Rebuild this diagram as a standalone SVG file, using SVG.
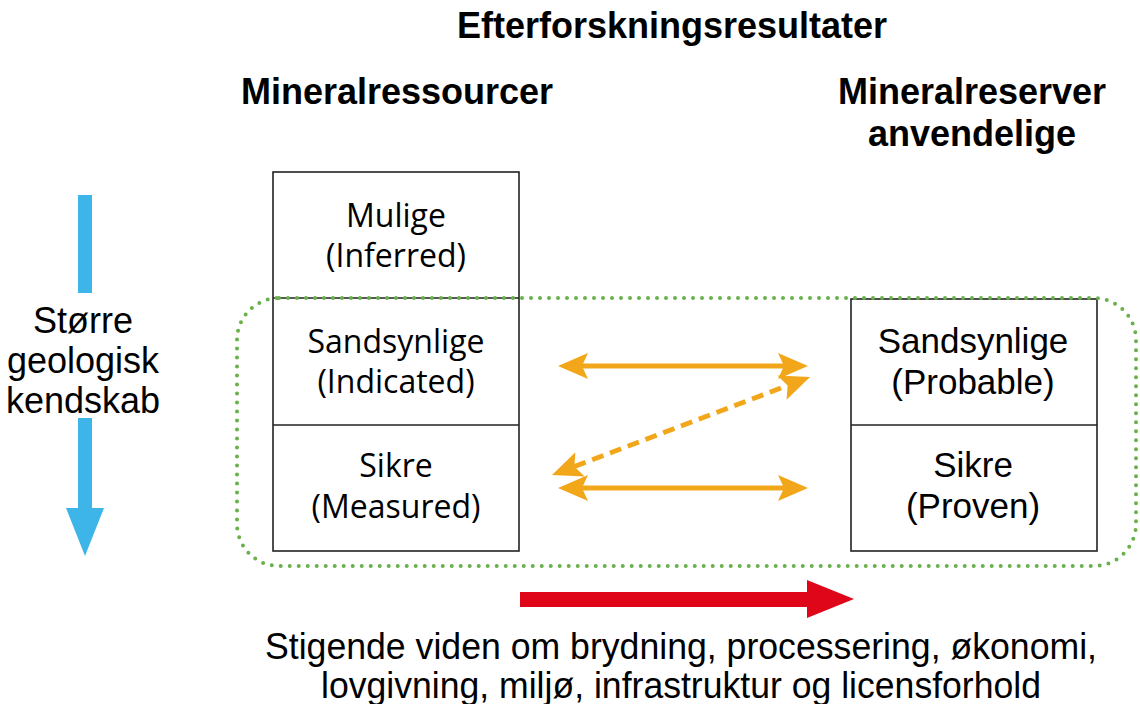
<svg xmlns="http://www.w3.org/2000/svg" width="1140" height="704" viewBox="0 0 1140 704">
<style>
.h{font-family:"Liberation Sans",Arial,sans-serif;font-weight:bold;font-size:36px;fill:#000;text-anchor:middle}
.a{font-family:"Liberation Sans",Arial,sans-serif;font-size:36px;fill:#000;text-anchor:middle}
.s{font-family:"Open Sans","Noto Sans",sans-serif;font-size:32px;fill:#000;text-anchor:middle}
.r{font-family:"Liberation Sans",Arial,sans-serif;font-size:35px;fill:#000;text-anchor:middle}
.box{fill:#fff;stroke:#222;stroke-width:1.6}
.dbl{fill:none;stroke:#F2A71B;stroke-width:5}
</style>
<defs>
<marker id="ah" markerUnits="userSpaceOnUse" markerWidth="32" markerHeight="30" viewBox="0 -15 32 30" refX="6" refY="0" orient="auto-start-reverse">
<path d="M30,0 L0,-13 L6,0 L0,13 Z" fill="#F2A71B"/>
</marker>
</defs>
<rect width="1140" height="704" fill="#fff"/>
<g id="titles">
<text class="h" x="672" y="38">Efterforskningsresultater</text>
<text class="h" x="397" y="104">Mineralressourcer</text>
<text class="h" x="972" y="104">Mineralreserver</text>
<text class="h" x="972" y="146">anvendelige</text>
</g>
<g id="knowledge">
<rect x="78" y="195" width="14" height="98" fill="#3DB5E9"/>
<path d="M78,418 H92 V508 H104 L85,556 L66,508 H78 Z" fill="#3DB5E9"/>
<text class="a" x="83" y="333">Større</text>
<text class="a" x="83" y="373">geologisk</text>
<text class="a" x="83" y="413">kendskab</text>
</g>
<g id="resources">
<rect class="box" x="273" y="172" width="246" height="379"/>
<line x1="273" y1="298" x2="519" y2="298" stroke="#222" stroke-width="1.6"/>
<line x1="273" y1="425" x2="519" y2="425" stroke="#222" stroke-width="1.6"/>
<text class="s" x="396" y="227">Mulige</text>
<text class="s" x="396" y="267">(Inferred)</text>
<text class="s" x="396" y="353">Sandsynlige</text>
<text class="s" x="396" y="393">(Indicated)</text>
<text class="s" x="396" y="477">Sikre</text>
<text class="s" x="396" y="518">(Measured)</text>
</g>
<g id="reserves">
<rect class="box" x="851" y="299" width="246" height="252"/>
<line x1="851" y1="425" x2="1097" y2="425" stroke="#222" stroke-width="1.6"/>
<text class="r" x="973" y="353">Sandsynlige</text>
<text class="r" x="973" y="394">(Probable)</text>
<text class="r" x="973" y="477">Sikre</text>
<text class="r" x="973" y="518">(Proven)</text>
</g>
<g id="group-outline">
<rect x="237" y="298" width="899" height="268" rx="42" ry="42" fill="none" stroke="#6AB04C" stroke-width="4" stroke-linecap="round" stroke-dasharray="0 9"/>
</g>
<g id="connectors">
<line class="dbl" x1="582" y1="366" x2="784" y2="366" marker-start="url(#ah)" marker-end="url(#ah)"/>
<line class="dbl" x1="582" y1="488" x2="784" y2="488" marker-start="url(#ah)" marker-end="url(#ah)"/>
<line class="dbl" x1="574.4" y1="466.5" x2="787.6" y2="385.5" stroke-width="6" stroke-dasharray="12 7" marker-start="url(#ah)" marker-end="url(#ah)"/>
</g>
<g id="progress">
<path d="M520,592 H807 V580 L854,599 L807,618 V607 H520 Z" fill="#E0061A"/>
<text class="a" x="681" y="659" font-size="40" textLength="832" lengthAdjust="spacingAndGlyphs">Stigende viden om brydning, processering, økonomi,</text>
<text class="a" x="681" y="698" font-size="40" textLength="720" lengthAdjust="spacingAndGlyphs">lovgivning, miljø, infrastruktur og licensforhold</text>
</g>
</svg>
